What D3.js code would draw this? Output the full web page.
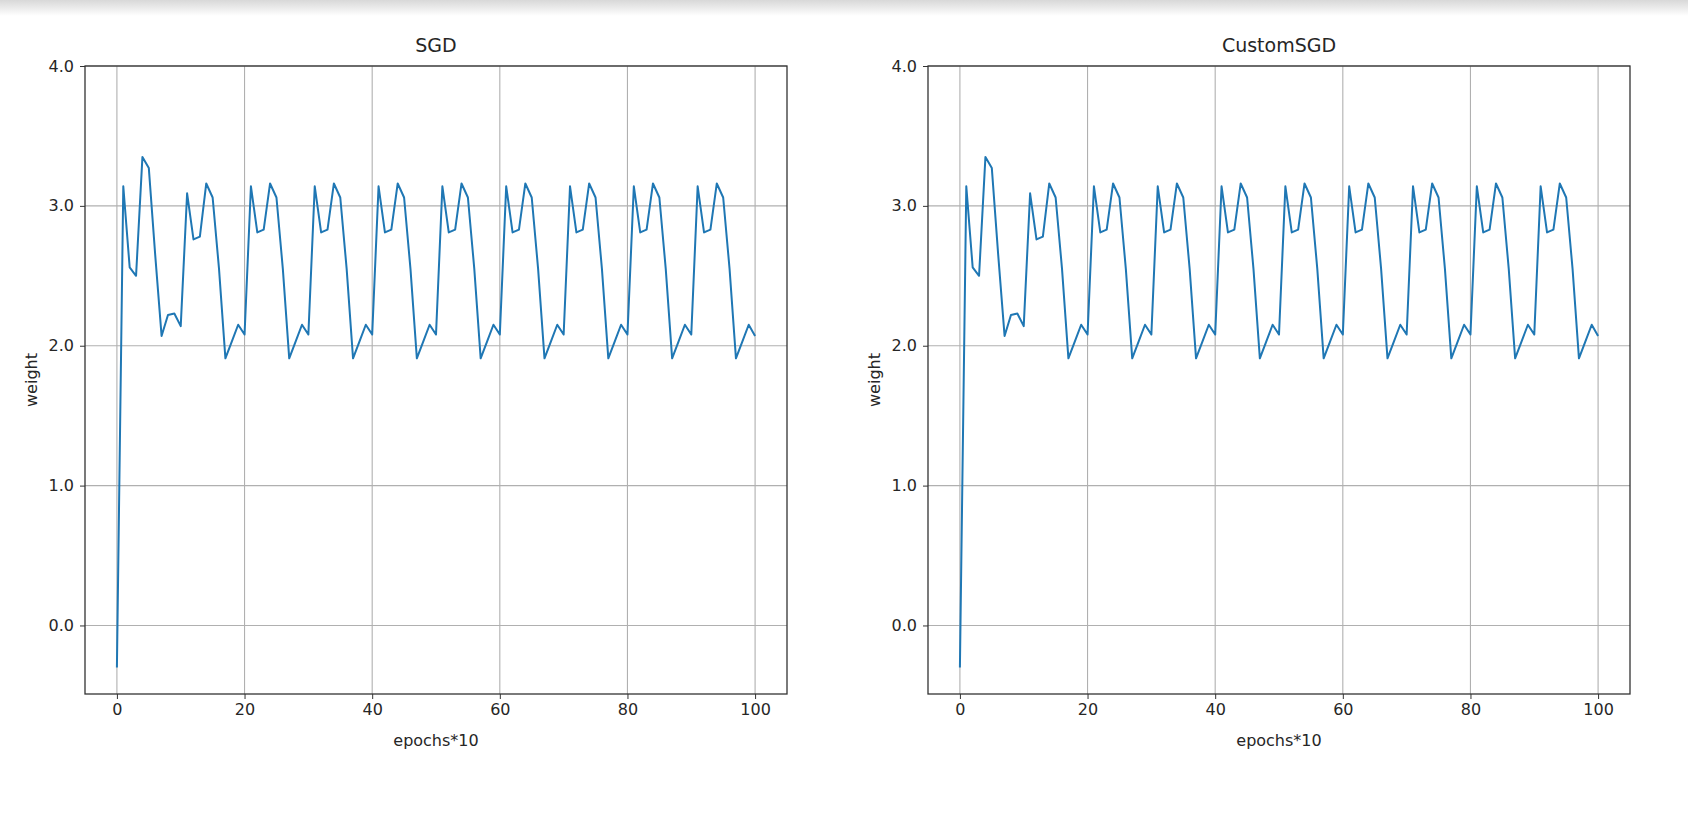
<!DOCTYPE html>
<html>
<head>
<meta charset="utf-8">
<script src="https://cdn.jsdelivr.net/npm/d3@7"></script>
<style>
  body { margin: 0; background: #fff; }
  text { font-family: "DejaVu Sans", sans-serif; fill: #262626; }
</style>
</head>
<body>
<svg id="fig" width="1688" height="818"></svg>
<script>
// weight per step (both panels show the same curve)
var weights = [
    -0.30, 3.14, 2.56, 2.50, 3.35, 3.27, 2.65, 2.07, 2.22, 2.23,
    2.14, 3.09, 2.76, 2.78, 3.16, 3.06, 2.55, 1.91, 2.03, 2.15,
    2.08, 3.14, 2.81, 2.83, 3.16, 3.06, 2.55, 1.91, 2.03, 2.15,
    2.08, 3.14, 2.81, 2.83, 3.16, 3.06, 2.55, 1.91, 2.03, 2.15,
    2.08, 3.14, 2.81, 2.83, 3.16, 3.06, 2.55, 1.91, 2.03, 2.15,
    2.08, 3.14, 2.81, 2.83, 3.16, 3.06, 2.55, 1.91, 2.03, 2.15,
    2.08, 3.14, 2.81, 2.83, 3.16, 3.06, 2.55, 1.91, 2.03, 2.15,
    2.08, 3.14, 2.81, 2.83, 3.16, 3.06, 2.55, 1.91, 2.03, 2.15,
    2.08, 3.14, 2.81, 2.83, 3.16, 3.06, 2.55, 1.91, 2.03, 2.15,
    2.08, 3.14, 2.81, 2.83, 3.16, 3.06, 2.55, 1.91, 2.03, 2.15,
    2.07
];
var titles = ["SGD", "CustomSGD"];
var xTicks = [0, 20, 40, 60, 80, 100];
var yTicks = [0, 1, 2, 3, 4];

var svg = d3.select("#fig");

// notebook shadow at top
var grad = svg.append("defs").append("linearGradient")
    .attr("id", "shade").attr("x1", 0).attr("y1", 0).attr("x2", 0).attr("y2", 1);
grad.append("stop").attr("offset", "0%").attr("stop-color", "#d8d8d8");
grad.append("stop").attr("offset", "100%").attr("stop-color", "#ffffff");
svg.append("rect").attr("width", 1688).attr("height", 16).attr("fill", "url(#shade)");

// panel positions
var panelLeft = [85, 928];
var panelW = 702;
var plotTop = 66, plotBottom = 694;

function drawPanel(k) {
    var x0 = panelLeft[k];
    var g = svg.append("g");

    var xScale = d3.scaleLinear().domain([-5, 105]).range([x0, x0 + panelW]);
    var yScale = d3.scaleLinear().domain([-0.49, 4]).range([plotBottom, plotTop]);

    // grid
    g.selectAll(".gx").data(xTicks).enter().append("line")
        .attr("x1", d => xScale(d)).attr("x2", d => xScale(d))
        .attr("y1", plotTop).attr("y2", plotBottom)
        .attr("stroke", "#b0b0b0").attr("stroke-width", 1.1);
    g.selectAll(".gy").data(yTicks).enter().append("line")
        .attr("x1", x0).attr("x2", x0 + panelW)
        .attr("y1", d => yScale(d)).attr("y2", d => yScale(d))
        .attr("stroke", "#b0b0b0").attr("stroke-width", 1.1);

    // line
    var line = d3.line()
        .x((d, i) => xScale(i))
        .y(d => yScale(d));
    g.append("path")
        .datum(weights)
        .attr("fill", "none")
        .attr("stroke", "#1f77b4")
        .attr("stroke-width", 2)
        .attr("stroke-linejoin", "round")
        .attr("d", line);

    // axes
    var xAxis = g.append("g")
        .attr("transform", "translate(0," + plotBottom + ")")
        .call(d3.axisBottom(xScale).tickValues(xTicks).tickSize(5).tickPadding(5));
    var yAxis = g.append("g")
        .attr("transform", "translate(" + x0 + ",0)")
        .call(d3.axisLeft(yScale).tickValues(yTicks).tickSize(5).tickPadding(6));
    [xAxis, yAxis].forEach(function (a) {
        a.select(".domain").remove();
        a.selectAll("line").attr("stroke", "#333");
        a.selectAll("text").attr("font-size", 16).attr("font-family", "DejaVu Sans").attr("fill", "#262626");
    });

    // frame
    g.append("rect")
        .attr("x", x0).attr("y", plotTop).attr("width", panelW).attr("height", plotBottom - plotTop)
        .attr("fill", "none").attr("stroke", "#333").attr("stroke-width", 1.3);

    // labels
    g.append("text")
        .attr("x", x0 + panelW / 2).attr("y", plotTop - 14)
        .attr("text-anchor", "middle").attr("font-size", 19)
        .text(titles[k]);
    g.append("text")
        .attr("x", x0 + panelW / 2).attr("y", plotBottom + 52)
        .attr("text-anchor", "middle").attr("font-size", 16)
        .text("epochs*10");
    g.append("text")
        .attr("transform", "translate(" + (x0 - 48) + "," + ((plotTop + plotBottom) / 2) + ") rotate(-90)")
        .attr("text-anchor", "middle").attr("font-size", 16)
        .text("weight");
}

drawPanel(0);
drawPanel(1);
</script>
</body>
</html>
